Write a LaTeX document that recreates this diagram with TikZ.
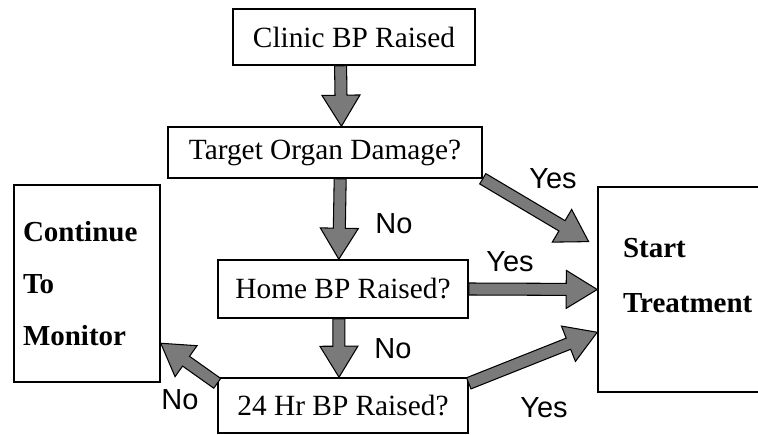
\documentclass[tikz,border=0pt]{standalone}
\usepackage{fontspec}
\setmainfont{Liberation Serif}
\setsansfont{Liberation Sans}
\usetikzlibrary{calc}
\tikzset{fat arrow/.style = {draw=black, line width=0.6pt, fill=black!52, line join=miter}}
% broad grey arrow between two anchors, optional gap before the tip
\newcommand{\fatarrow}[3][0pt]{%
  \coordinate (fa-s) at (#2);
  \coordinate (fa-e) at ($(#3)!#1!(#2)$);
  \coordinate (fa-n) at ($(fa-e)!0.62cm!(fa-s)$);
  \path[fat arrow] ($(fa-s)!0.12cm!90:(fa-e)$) -- ($(fa-n)!0.12cm!90:(fa-e)$)
    -- ($(fa-n)!0.38cm!90:(fa-e)$) -- (fa-e) -- ($(fa-n)!0.38cm!-90:(fa-e)$)
    -- ($(fa-n)!0.12cm!-90:(fa-e)$) -- ($(fa-s)!0.12cm!-90:(fa-e)$) -- cycle;}

\begin{document}
\begin{tikzpicture}[x=0.02cm, y=-0.02cm,
  every node/.style={font=\fontsize{16.7pt}{19pt}\selectfont},
  main node/.style={draw, line width=0.9pt, rectangle, inner sep=0pt},
  end node/.style={main node, align=left, font=\bfseries\fontsize{16.5pt}{29.8pt}\selectfont},
  answer/.style={font=\sffamily\fontsize{16.5pt}{19pt}\selectfont}]
                \useasboundingbox (0,0) rectangle (758,435);
                \clip (0,0) rectangle (758,435);

                \node[main node, minimum width=4.84cm, minimum height=1.12cm] (clinic) at (354,37) {Clinic BP Raised};
                \node[main node, minimum width=6.28cm, minimum height=1.02cm] (target) at (325,152.5) {Target Organ Damage?};
                \node[main node, minimum width=5cm, minimum height=1.16cm] (home) at (343,289) {Home BP Raised?};
                \node[main node, minimum width=5cm, minimum height=1.1cm] (hr24) at (343,405.5) {24 Hr BP Raised?};
                \node[end node, minimum width=2.92cm, minimum height=3.94cm, text width=2.56cm, inner xsep=0.18cm] (monitor) at (87,283.5) {Continue\\To\\Monitor};
                \node[end node, minimum width=4cm, minimum height=4.1cm, text width=3cm, inner xsep=0.5cm, text depth=46.8pt,
                      font=\bfseries\fontsize{16.5pt}{31.3pt}\selectfont] (start) at (698,289.5) {Start\\Treatment};

                \fatarrow{clinic.-115}{target.58}
                \fatarrow{target.-60}{home.98}
                \fatarrow{home.-98}{hr24.98}
                \fatarrow[0.2cm]{target.south east}{start.157}
                \fatarrow{home.east}{start.west}
                \fatarrow{hr24.10}{start.-157}
                \fatarrow{hr24.170}{monitor.-39}

                \node[answer] (yes1) at (553,179) {Yes};
                \node[answer] (no1) at (394,224) {No};
                \node[answer] (yes2) at (510,262) {Yes};
                \node[answer] (no2) at (393,349) {No};
                \node[answer] (no3) at (180,400) {No};
                \node[answer] (yes3) at (544,408) {Yes};
            \end{tikzpicture}
\end{document}
